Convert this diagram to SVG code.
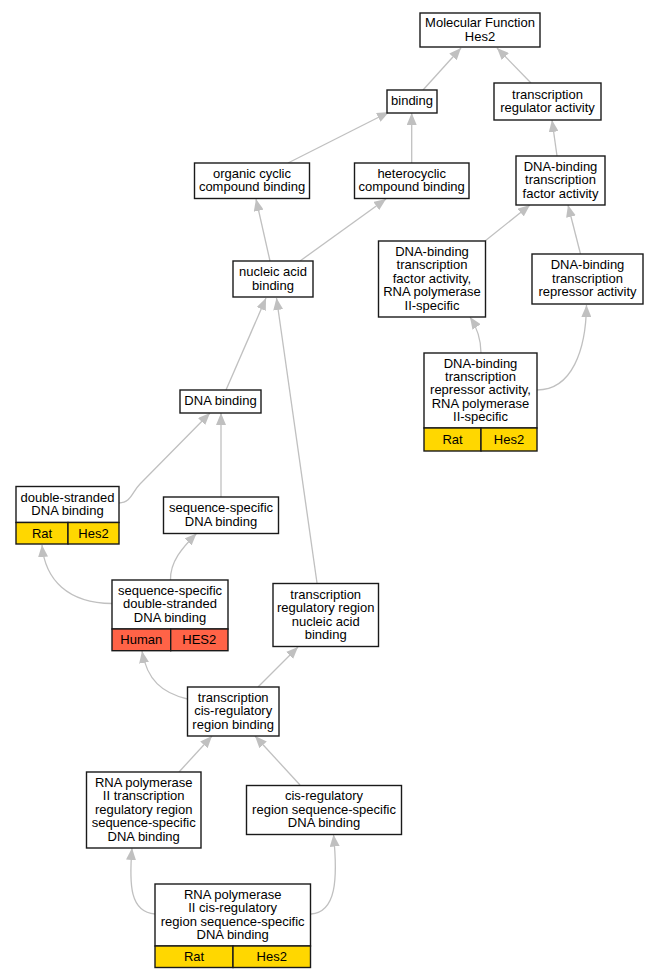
<svg xmlns="http://www.w3.org/2000/svg" width="657" height="979" viewBox="0 0 657 979">
<style>
  .box { fill: #ffffff; stroke: #1a1a1a; stroke-width: 1.4; }
  .rat { fill: #ffd700; stroke: #1a1a1a; stroke-width: 1.4; }
  .hum { fill: #ff6347; stroke: #1a1a1a; stroke-width: 1.4; }
  .t { font-family: "Liberation Sans", Arial, sans-serif; font-size: 13px; fill: #000; text-anchor: middle; }
  .e { fill: none; stroke: #c0c0c0; stroke-width: 1.3; }
</style>
<defs>
  <marker id="arr" markerUnits="userSpaceOnUse" markerWidth="12" markerHeight="10" viewBox="0 0 12 10" refX="12" refY="5" orient="auto">
    <path d="M0,0 L12,5 L0,10 z" fill="#c0c0c0"/>
  </marker>
</defs>
<rect width="657" height="979" fill="#ffffff"/>
<g id="edges">
  <path class="e" marker-end="url(#arr)" d="M423,90 L461,48"/>
  <path class="e" marker-end="url(#arr)" d="M531,83 L497,48"/>
  <path class="e" marker-end="url(#arr)" d="M288,163 L389,112"/>
  <path class="e" marker-end="url(#arr)" d="M411.7,163 L411.7,113"/>
  <path class="e" marker-end="url(#arr)" d="M270,261 L256,199"/>
  <path class="e" marker-end="url(#arr)" d="M300,261 L386,199"/>
  <path class="e" marker-end="url(#arr)" d="M557,156 L552,120"/>
  <path class="e" marker-end="url(#arr)" d="M485,241 L530,205"/>
  <path class="e" marker-end="url(#arr)" d="M580.5,254 L568,205"/>
  <path class="e" marker-end="url(#arr)" d="M481,353 C481,338 476,326 470,317"/>
  <path class="e" marker-end="url(#arr)" d="M537,390 C572,390 586,350 586.5,305"/>
  <path class="e" marker-end="url(#arr)" d="M226,390 L266,298"/>
  <path class="e" marker-end="url(#arr)" d="M317,583 L276.5,298"/>
  <path class="e" marker-end="url(#arr)" d="M119,503 C131,503 132,492 140,484 L210,413"/>
  <path class="e" marker-end="url(#arr)" d="M221,497 L221,413"/>
  <path class="e" marker-end="url(#arr)" d="M112,603.5 C68,603 45,580 42,545"/>
  <path class="e" marker-end="url(#arr)" d="M170.5,580 C170,562 182,548 196.5,533.5"/>
  <path class="e" marker-end="url(#arr)" d="M187.5,699 C162,693 147,680 142,651"/>
  <path class="e" marker-end="url(#arr)" d="M258,687 L298,647"/>
  <path class="e" marker-end="url(#arr)" d="M179,772 L212,736"/>
  <path class="e" marker-end="url(#arr)" d="M300,785 L255,736"/>
  <path class="e" marker-end="url(#arr)" d="M155,914 C130,912 129,885 132,848"/>
  <path class="e" marker-end="url(#arr)" d="M311,914 C336,912 338,880 333.5,834.5"/>
</g>
<g id="n1">
  <rect class="box" x="420" y="13" width="120" height="34"/>
  <text class="t" x="480" y="27.1">Molecular Function</text>
  <text class="t" x="480" y="40.5">Hes2</text>
</g>
<g id="n2">
  <rect class="box" x="387" y="90" width="50" height="23"/>
  <text class="t" x="412" y="105.3">binding</text>
</g>
<g id="n3">
  <rect class="box" x="494" y="83" width="107" height="37"/>
  <text class="t" x="547.5" y="98.6">transcription</text>
  <text class="t" x="547.5" y="112">regulator activity</text>
</g>
<g id="n4">
  <rect class="box" x="194.5" y="163" width="115" height="35.5"/>
  <text class="t" x="252" y="177.9">organic cyclic</text>
  <text class="t" x="252" y="191.3">compound binding</text>
</g>
<g id="n5">
  <rect class="box" x="354.5" y="163" width="114.5" height="35.5"/>
  <text class="t" x="411.7" y="177.9">heterocyclic</text>
  <text class="t" x="411.7" y="191.3">compound binding</text>
</g>
<g id="n6">
  <rect class="box" x="516" y="156" width="89" height="49"/>
  <text class="t" x="560.5" y="170.9">DNA-binding</text>
  <text class="t" x="560.5" y="184.3">transcription</text>
  <text class="t" x="560.5" y="197.7">factor activity</text>
</g>
<g id="n7">
  <rect class="box" x="378.5" y="241" width="107" height="76"/>
  <text class="t" x="432" y="256">DNA-binding</text>
  <text class="t" x="432" y="269.4">transcription</text>
  <text class="t" x="432" y="282.8">factor activity,</text>
  <text class="t" x="432" y="296.2">RNA polymerase</text>
  <text class="t" x="432" y="309.6">II-specific</text>
</g>
<g id="n8">
  <rect class="box" x="532" y="254" width="111" height="50"/>
  <text class="t" x="587.5" y="269.4">DNA-binding</text>
  <text class="t" x="587.5" y="282.8">transcription</text>
  <text class="t" x="587.5" y="296.2">repressor activity</text>
</g>
<g id="n9">
  <rect class="box" x="424" y="353" width="113" height="75"/>
  <rect class="rat" x="424" y="428" width="57" height="23"/>
  <rect class="rat" x="481" y="428" width="56" height="23"/>
  <text class="t" x="480.5" y="367.5">DNA-binding</text>
  <text class="t" x="480.5" y="380.9">transcription</text>
  <text class="t" x="480.5" y="394.3">repressor activity,</text>
  <text class="t" x="480.5" y="407.7">RNA polymerase</text>
  <text class="t" x="480.5" y="421.1">II-specific</text>
  <text class="t" x="452.5" y="443.8">Rat</text>
  <text class="t" x="509" y="443.8">Hes2</text>
</g>
<g id="n10">
  <rect class="box" x="233" y="261" width="80" height="36"/>
  <text class="t" x="273" y="276.1">nucleic acid</text>
  <text class="t" x="273" y="289.5">binding</text>
</g>
<g id="n11">
  <rect class="box" x="180" y="390" width="81" height="23"/>
  <text class="t" x="220.5" y="405.3">DNA binding</text>
</g>
<g id="n12">
  <rect class="box" x="16" y="486.5" width="103" height="36"/>
  <rect class="rat" x="16" y="522.5" width="52" height="21.5"/>
  <rect class="rat" x="68" y="522.5" width="51" height="21.5"/>
  <text class="t" x="67.5" y="501.6">double-stranded</text>
  <text class="t" x="67.5" y="515">DNA binding</text>
  <text class="t" x="42" y="537.5">Rat</text>
  <text class="t" x="93.5" y="537.5">Hes2</text>
</g>
<g id="n13">
  <rect class="box" x="163.5" y="497" width="115" height="36.5"/>
  <text class="t" x="221" y="512.4">sequence-specific</text>
  <text class="t" x="221" y="525.8">DNA binding</text>
</g>
<g id="n14">
  <rect class="box" x="112" y="580" width="116" height="49"/>
  <rect class="hum" x="112" y="629" width="58.7" height="21.7"/>
  <rect class="hum" x="170.7" y="629" width="57.3" height="21.7"/>
  <text class="t" x="170" y="594.9">sequence-specific</text>
  <text class="t" x="170" y="608.3">double-stranded</text>
  <text class="t" x="170" y="621.7">DNA binding</text>
  <text class="t" x="141.3" y="644.1">Human</text>
  <text class="t" x="199.3" y="644.1">HES2</text>
</g>
<g id="n15">
  <rect class="box" x="273" y="583.5" width="105.5" height="63"/>
  <text class="t" x="325.7" y="598.7">transcription</text>
  <text class="t" x="325.7" y="612.1">regulatory region</text>
  <text class="t" x="325.7" y="625.5">nucleic acid</text>
  <text class="t" x="325.7" y="638.9">binding</text>
</g>
<g id="n16">
  <rect class="box" x="187.5" y="687" width="91.5" height="49"/>
  <text class="t" x="233.2" y="701.9">transcription</text>
  <text class="t" x="233.2" y="715.3">cis-regulatory</text>
  <text class="t" x="233.2" y="728.7">region binding</text>
</g>
<g id="n17">
  <rect class="box" x="86.5" y="772" width="114.5" height="76"/>
  <text class="t" x="143.7" y="787">RNA polymerase</text>
  <text class="t" x="143.7" y="800.4">II transcription</text>
  <text class="t" x="143.7" y="813.8">regulatory region</text>
  <text class="t" x="143.7" y="827.2">sequence-specific</text>
  <text class="t" x="143.7" y="840.6">DNA binding</text>
</g>
<g id="n18">
  <rect class="box" x="246.5" y="785.5" width="155" height="49"/>
  <text class="t" x="324" y="800.4">cis-regulatory</text>
  <text class="t" x="324" y="813.8">region sequence-specific</text>
  <text class="t" x="324" y="827.2">DNA binding</text>
</g>
<g id="n19">
  <rect class="box" x="155" y="884" width="155.5" height="62"/>
  <rect class="rat" x="155" y="946" width="78" height="21.5"/>
  <rect class="rat" x="233" y="946" width="77.5" height="21.5"/>
  <text class="t" x="232.7" y="898.7">RNA polymerase</text>
  <text class="t" x="232.7" y="912.1">II cis-regulatory</text>
  <text class="t" x="232.7" y="925.5">region sequence-specific</text>
  <text class="t" x="232.7" y="938.9">DNA binding</text>
  <text class="t" x="194" y="961">Rat</text>
  <text class="t" x="271.7" y="961">Hes2</text>
</g>
</svg>
